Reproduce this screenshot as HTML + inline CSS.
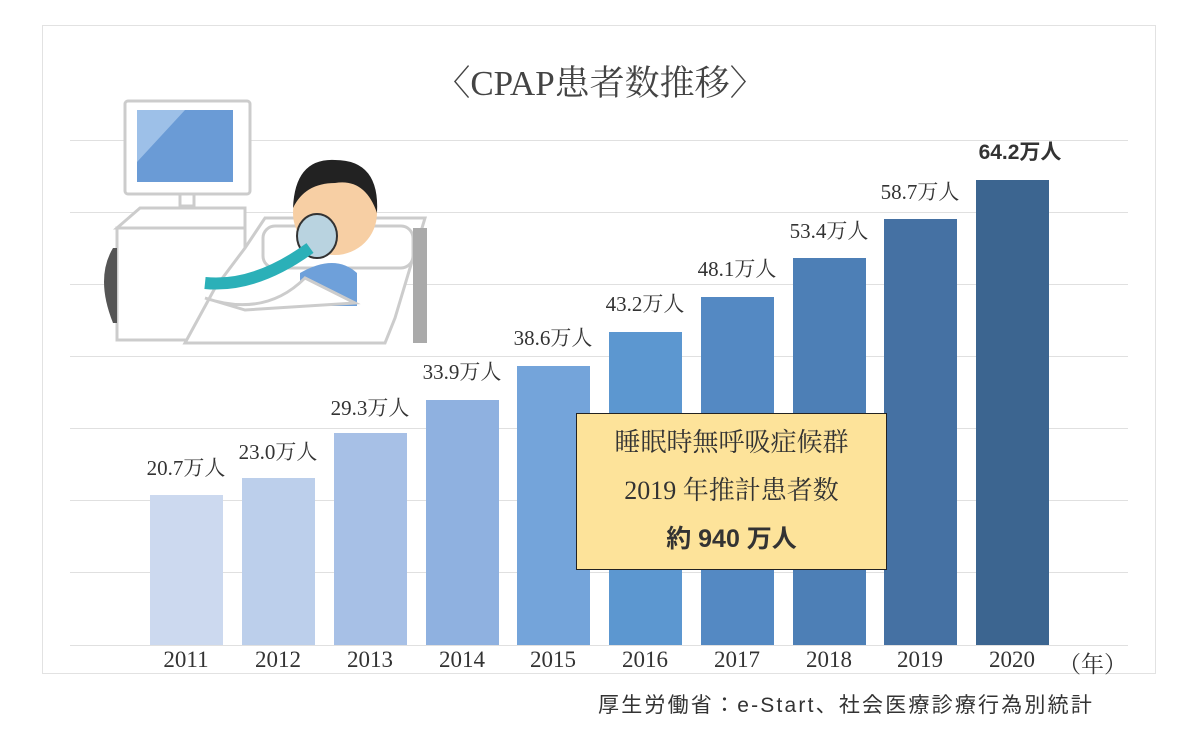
<!DOCTYPE html>
<html><head><meta charset="utf-8"><style>
body{margin:0;width:1200px;height:730px;background:#fff;position:relative;overflow:hidden;font-family:"Liberation Serif","Noto Serif CJK SC",serif;color:#333}
.frame{position:absolute;left:42px;top:25px;width:1114px;height:649px;border:1.5px solid #e2e2e2;box-sizing:border-box}
.g{position:absolute;left:70px;width:1058px;height:1px;background:#e0e0e0}
.bar{position:absolute;width:73px;bottom:85px}
.lab{position:absolute;font-size:21px;width:140px;text-align:center;white-space:nowrap}
.yr{position:absolute;top:647px;font-size:23px;width:90px;text-align:center}
</style></head><body>
<div class="frame"></div>
<div style="position:absolute;left:0;width:1200px;top:56px;text-align:center;font-size:35px;color:#444">〈CPAP患者数推移〉</div>
<div class="g" style="top:140px"></div><div class="g" style="top:212px"></div><div class="g" style="top:284px"></div><div class="g" style="top:356px"></div><div class="g" style="top:428px"></div><div class="g" style="top:500px"></div><div class="g" style="top:572px"></div><div class="g" style="top:645px"></div>

<div class="bar" style="left:150px;height:150px;background:#ccd9ef"></div>
<div class="bar" style="left:242px;height:167px;background:#bccfeb"></div>
<div class="bar" style="left:334px;height:212px;background:#a7c0e6"></div>
<div class="bar" style="left:426px;height:245px;background:#8fb1e0"></div>
<div class="bar" style="left:517px;height:279px;background:#74a4da"></div>
<div class="bar" style="left:609px;height:313px;background:#5c97d0"></div>
<div class="bar" style="left:701px;height:348px;background:#5489c3"></div>
<div class="bar" style="left:793px;height:387px;background:#4d7fb6"></div>
<div class="bar" style="left:884px;height:426px;background:#4571a3"></div>
<div class="bar" style="left:976px;height:465px;background:#3c6590"></div>

<div class="lab" style="left:116px;top:452px">20.7万人</div>
<div class="lab" style="left:208px;top:436px">23.0万人</div>
<div class="lab" style="left:300px;top:392px">29.3万人</div>
<div class="lab" style="left:392px;top:356px">33.9万人</div>
<div class="lab" style="left:483px;top:322px">38.6万人</div>
<div class="lab" style="left:575px;top:288px">43.2万人</div>
<div class="lab" style="left:667px;top:253px">48.1万人</div>
<div class="lab" style="left:759px;top:215px">53.4万人</div>
<div class="lab" style="left:850px;top:176px">58.7万人</div>
<div class="lab" style="left:950px;top:136px;font-weight:bold;font-family:'Liberation Sans','Noto Sans CJK JP',sans-serif">64.2万人</div>

<div class="yr" style="left:141px">2011</div><div class="yr" style="left:233px">2012</div><div class="yr" style="left:325px">2013</div><div class="yr" style="left:417px">2014</div><div class="yr" style="left:508px">2015</div><div class="yr" style="left:600px">2016</div><div class="yr" style="left:692px">2017</div><div class="yr" style="left:784px">2018</div><div class="yr" style="left:875px">2019</div><div class="yr" style="left:967px">2020</div>
<div style="position:absolute;left:1058px;top:646px;font-size:23px">（年）</div>

<div style="position:absolute;left:576px;top:413px;width:311px;height:157px;box-sizing:border-box;border:1.5px solid #222;background:#fde39a;text-align:center;font-size:26px;line-height:48px;padding-top:5px">
睡眠時無呼吸症候群<br>2019 年推計患者数<br><b style="font-family:'Liberation Sans','Noto Sans CJK JP',sans-serif;font-size:25px">約 940 万人</b></div>

<div style="position:absolute;left:598px;top:689px;font-size:21px;letter-spacing:2.2px;font-family:'Liberation Sans','Noto Sans CJK JP',sans-serif;color:#333">厚生労働省：e-Start、社会医療診療行為別統計</div>

<svg style="position:absolute;left:95px;top:98px" width="345" height="250" viewBox="0 0 345 250">
<g fill="#fff" stroke="#ccc" stroke-width="3">
<rect x="30" y="3" width="125" height="93" rx="3"/>
<rect x="85" y="96" width="14" height="12"/>
<path d="M22 130 L45 110 L150 110 L150 130 Z"/>
<rect x="22" y="130" width="128" height="112"/>
</g>
<rect x="42" y="12" width="96" height="72" fill="#6a9bd6"/>
<path d="M42 12 L90 12 L42 64 Z" fill="#9dc0e8"/>
<path d="M18 150 Q0 180 18 225 L22 225 L22 150 Z" fill="#555"/>
<g fill="#fff" stroke="#ccc" stroke-width="3">
<path d="M150 150 L170 120 L330 120 L300 220 L290 245 L90 245 L120 190 Z"/>
<rect x="168" y="128" width="150" height="42" rx="12"/>
</g>
<rect x="318" y="130" width="14" height="115" fill="#aaa"/>
<circle cx="240" cy="115" r="42" fill="#f7cfa4"/>
<path d="M198 110 Q200 60 240 62 Q285 62 282 115 Q270 80 240 85 Q210 85 198 110 Z" fill="#222"/>
<path d="M205 175 Q240 155 262 175 L262 208 L205 208 Z" fill="#6ea0da"/>
<ellipse cx="222" cy="138" rx="20" ry="22" fill="#b9d3e0" stroke="#333" stroke-width="2"/>
<path d="M110 185 Q160 190 215 150" stroke="#2bb0b8" stroke-width="12" fill="none"/>
<path d="M110 200 Q170 220 210 180 L260 205 L150 212 Z" fill="#fff" stroke="#ccc" stroke-width="3"/>
</svg>
</body></html>
